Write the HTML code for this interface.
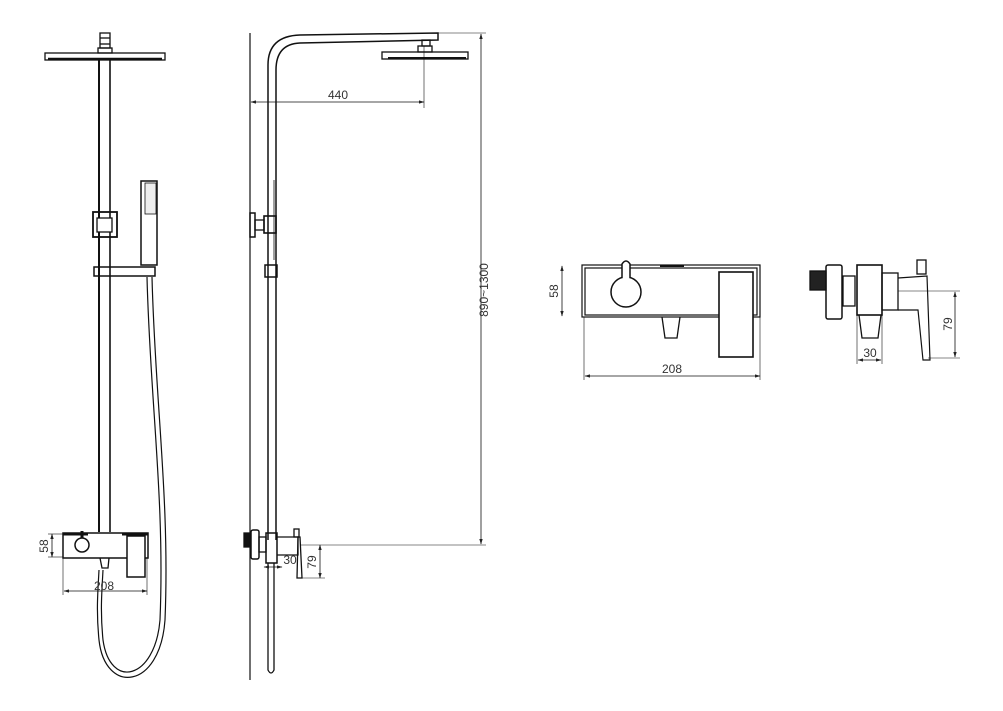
<!DOCTYPE html>
<html><head><style>body{margin:0;background:#fff}svg{display:block}text{font-family:"Liberation Sans",sans-serif;fill:#333;font-size:12px}</style></head><body>
<svg width="1003" height="711" viewBox="0 0 1003 711" fill="none" stroke="#111" stroke-width="1.3">
<defs><marker id="a" viewBox="0 0 10 10" refX="9" refY="5" markerWidth="7" markerHeight="7" orient="auto-start-reverse"><path d="M0,2L10,5L0,8z" fill="#222" stroke="none"/></marker></defs>
<!-- LEFT FRONT VIEW -->
<rect x="100" y="33" width="10" height="15"/><line x1="100" y1="38" x2="110" y2="38"/><line x1="100" y1="44" x2="110" y2="44"/>
<rect x="98" y="48" width="14" height="5"/>
<rect x="45" y="53" width="120" height="7"/><line x1="48" y1="59" x2="162" y2="59" stroke-width="2.5"/>
<line x1="99" y1="60" x2="99" y2="532" stroke-width="2"/><line x1="110" y1="60" x2="110" y2="532" stroke-width="1.6"/>
<rect x="93" y="212" width="24" height="25" stroke-width="1.8"/><rect x="97" y="218" width="15" height="14" fill="#fff"/>
<rect x="141" y="181" width="16" height="84" stroke-width="1.5"/><rect x="145" y="183" width="11" height="31" fill="#eee" stroke-width="0.8"/>
<rect x="94" y="267" width="61" height="9" stroke-width="1.5"/>
<path d="M147,277 C150,400 165,500 160,620 C155,680 110,690 103,640 C100,610 102,590 103,570" stroke-width="1.2"/>
<path d="M152,277 C155,400 170,500 165,620 C160,690 105,695 99,640 C96,610 98,590 99,570" stroke-width="1.2"/>
<rect x="63" y="533" width="85" height="25" stroke-width="1.5"/><line x1="63" y1="534" x2="88" y2="534" stroke-width="3"/><line x1="122" y1="534" x2="148" y2="534" stroke-width="3"/>
<circle cx="82" cy="545" r="7" stroke-width="1.5" fill="#fff"/><line x1="82" y1="531" x2="82" y2="538" stroke-width="3"/>
<rect x="127" y="536" width="18" height="41" fill="#fff" stroke-width="1.5"/>
<path d="M100,558 L102,568 L108,568 L109,558"/>
<line x1="52" y1="534" x2="52" y2="557" stroke-width="0.8" marker-start="url(#a)" marker-end="url(#a)"/>
<line x1="48" y1="534" x2="63" y2="534" stroke-width="0.6"/><line x1="48" y1="557" x2="63" y2="557" stroke-width="0.6"/>
<text x="48" y="546" transform="rotate(-90 48 546)" text-anchor="middle" stroke="none">58</text>
<line x1="64" y1="591" x2="147" y2="591" stroke-width="0.8" marker-start="url(#a)" marker-end="url(#a)"/>
<line x1="63" y1="558" x2="63" y2="595" stroke-width="0.6"/><line x1="147" y1="558" x2="147" y2="595" stroke-width="0.6"/>
<text x="104" y="590" text-anchor="middle" stroke="none">208</text>
<!-- MIDDLE SIDE VIEW -->
<line x1="250" y1="33" x2="250" y2="680" stroke-width="1.2"/>
<path d="M268,540 L268,65 Q268,36 300,35 L438,33 L438,40 L300,43 Q276,44 276,70 L276,540" stroke-width="1.5"/>
<rect x="422" y="40" width="8" height="6"/><rect x="418" y="46" width="14" height="6"/>
<rect x="382" y="52" width="86" height="7"/><line x1="388" y1="58" x2="466" y2="58" stroke-width="2"/>
<line x1="251" y1="102" x2="424" y2="102" stroke-width="0.8" marker-start="url(#a)" marker-end="url(#a)"/>
<line x1="424" y1="46" x2="424" y2="108" stroke-width="0.6"/>
<text x="338" y="99" text-anchor="middle" stroke="none">440</text>
<line x1="481" y1="34" x2="481" y2="544" stroke-width="0.8" marker-start="url(#a)" marker-end="url(#a)"/>
<line x1="438" y1="33" x2="486" y2="33" stroke-width="0.6"/><line x1="300" y1="545" x2="486" y2="545" stroke-width="0.6"/>
<text x="488" y="290" transform="rotate(-90 488 290)" text-anchor="middle" stroke="none">890~1300</text>
<line x1="274" y1="180" x2="274" y2="260" stroke-width="0.8"/>
<rect x="250" y="213" width="5" height="24" stroke-width="1.5"/><rect x="255" y="220" width="9" height="10"/>
<rect x="264" y="216" width="12" height="17" stroke-width="1.6"/>
<rect x="265" y="265" width="12" height="12" stroke-width="1.5"/>
<rect x="244" y="533" width="6" height="14" fill="#111"/>
<rect x="251" y="530" width="8" height="29" rx="2" stroke-width="1.5"/>
<rect x="259" y="537" width="7" height="15"/>
<rect x="266" y="533" width="11" height="30" stroke-width="1.5"/>
<path d="M277,537 L298,537 L298,555 L277,555"/><rect x="294" y="529" width="5" height="8"/>
<path d="M298,537 L300,537 L302,578 L297,578 Z"/>
<path d="M268,563 L268,670 Q271,676 274,670 L274,563" stroke-width="1.3"/>
<line x1="264" y1="567" x2="282" y2="567" stroke-width="0.8" marker-start="url(#a)" marker-end="url(#a)"/>
<text x="290" y="564" text-anchor="middle" stroke="none">30</text>
<line x1="320" y1="545" x2="320" y2="578" stroke-width="0.8" marker-start="url(#a)" marker-end="url(#a)"/>
<line x1="298" y1="578" x2="325" y2="578" stroke-width="0.6"/>
<text x="316" y="562" transform="rotate(-90 316 562)" text-anchor="middle" stroke="none">79</text>
<!-- RIGHT MIXER FRONT -->
<rect x="582" y="265" width="178" height="52" stroke-width="1.2"/>
<rect x="585" y="268" width="172" height="47" stroke-width="1.2"/>
<circle cx="626" cy="292" r="15" stroke-width="1.5" fill="#fff"/>
<path d="M622,278 L622,264 Q626,258 630,264 L630,278" stroke-width="1.5" fill="#fff"/>
<line x1="660" y1="266" x2="684" y2="266" stroke-width="2"/>
<path d="M662,317 L665,338 L677,338 L680,317"/>
<rect x="719" y="272" width="34" height="85" stroke-width="1.6" fill="#fff"/>
<line x1="562" y1="266" x2="562" y2="316" stroke-width="0.8" marker-start="url(#a)" marker-end="url(#a)"/>
<text x="558" y="291" transform="rotate(-90 558 291)" text-anchor="middle" stroke="none">58</text>
<line x1="585" y1="376" x2="760" y2="376" stroke-width="0.8" marker-start="url(#a)" marker-end="url(#a)"/>
<line x1="584" y1="317" x2="584" y2="380" stroke-width="0.6"/><line x1="760" y1="317" x2="760" y2="380" stroke-width="0.6"/>
<text x="672" y="373" text-anchor="middle" stroke="none">208</text>
<!-- RIGHT MIXER SIDE -->
<rect x="810" y="271" width="16" height="19" fill="#222"/>
<rect x="826" y="265" width="16" height="54" rx="2" stroke-width="1.5"/>
<rect x="843" y="276" width="12" height="30"/>
<rect x="857" y="265" width="25" height="50" stroke-width="1.6"/>
<rect x="882" y="273" width="16" height="37"/>
<path d="M898,278 L927,276 L930,360 L923,360 L918,310 L898,310" stroke-width="1.2"/>
<rect x="917" y="260" width="9" height="14"/>
<path d="M859,315 L862,338 L878,338 L881,315"/>
<line x1="898" y1="291" x2="960" y2="291" stroke-width="0.6"/><line x1="928" y1="358" x2="960" y2="358" stroke-width="0.6"/>
<line x1="955" y1="292" x2="955" y2="357" stroke-width="0.8" marker-start="url(#a)" marker-end="url(#a)"/>
<text x="952" y="324" transform="rotate(-90 952 324)" text-anchor="middle" stroke="none">79</text>
<line x1="857" y1="315" x2="857" y2="364" stroke-width="0.6"/><line x1="882" y1="315" x2="882" y2="364" stroke-width="0.6"/>
<line x1="858" y1="360" x2="881" y2="360" stroke-width="0.8" marker-start="url(#a)" marker-end="url(#a)"/>
<text x="870" y="357" text-anchor="middle" stroke="none">30</text>
</svg>
</body></html>
